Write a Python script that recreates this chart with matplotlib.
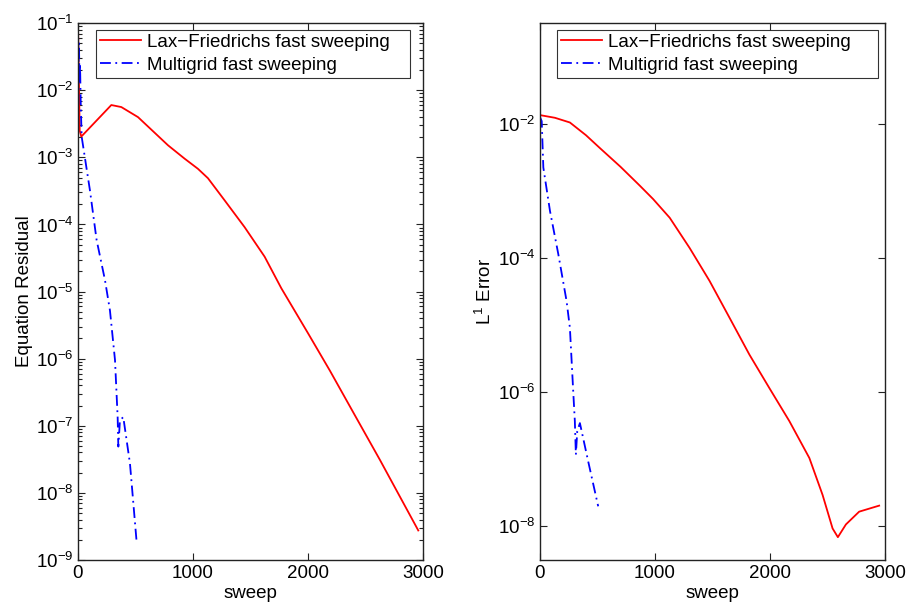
import numpy as np
import matplotlib
matplotlib.use("Agg")
import matplotlib.pyplot as plt
from matplotlib.ticker import LogLocator, FixedLocator, NullLocator, LogFormatterMathtext

plt.rcParams['font.family'] = ['Liberation Sans', 'DejaVu Sans']
plt.rcParams['mathtext.fontset'] = 'custom'
plt.rcParams['mathtext.rm'] = 'Liberation Sans'
plt.rcParams['mathtext.it'] = 'Liberation Sans:italic'
plt.rcParams['axes.unicode_minus'] = True

# left panel: equation residual (values stored as log10)
lf_res_sweep = [0, 15, 29, 290, 377, 522, 783, 928, 1043, 1130, 1275, 1449, 1623,
                1768, 2000, 2191, 2400, 2626, 2959]
lf_res_log10 = [-1.0, -2.6, -2.69, -2.22, -2.25, -2.40, -2.82, -3.02, -3.17, -3.31,
                -3.64, -4.04, -4.48, -4.95, -5.62, -6.18, -6.82, -7.51, -8.56]

mg_res_sweep = [0, 5, 9, 13, 18, 24, 32, 104, 162, 235, 278, 322, 345, 351, 365,
                394, 452, 510]
mg_res_log10 = [-1.0, -1.6, -1.3, -1.9, -1.6, -2.2, -2.69, -3.49, -4.23, -4.83, -5.28,
                -6.02, -6.87, -7.31, -6.92, -6.87, -7.56, -8.73]

# right panel: L1 error (values stored as log10)
lf_err_sweep = [0, 130, 260, 400, 520, 700, 867, 983, 1128, 1301, 1474, 1648, 1821,
                1995, 2168, 2342, 2457, 2544, 2590, 2660, 2775, 2949]
lf_err_log10 = [-1.87, -1.91, -1.98, -2.17, -2.36, -2.64, -2.92, -3.12, -3.40, -3.85,
                -4.34, -4.89, -5.44, -5.94, -6.43, -6.98, -7.53, -8.03, -8.16, -7.97,
                -7.78, -7.69]

mg_err_sweep = [0, 15, 29, 87, 159, 231, 260, 289, 303, 312, 324, 347, 419, 506]
mg_err_log10 = [-1.9, -1.96, -2.65, -3.30, -3.94, -4.64, -5.04, -5.99, -6.43, -6.93,
                -6.58, -6.46, -7.03, -7.70]

legend_labels = ["Lax\u2212Friedrichs fast sweeping", "Multigrid fast sweeping"]
x_ticks = [0, 1000, 2000, 3000]


def style_axes(ax):
    ax.set_yscale("log")
    ax.set_xlim(0, 3000)
    ax.set_xticks(x_ticks)
    ax.tick_params(which="both", direction="in", top=True, right=True,
                   labelsize=13.5, width=0.8, colors="#222222", labelcolor="black")
    ax.tick_params(which="major", length=5)
    ax.tick_params(which="minor", length=3)
    for s in ax.spines.values():
        s.set_linewidth(1.0)
        s.set_color("#222222")
    ax.set_xlabel("sweep", fontsize=13.5, labelpad=2)


fig = plt.figure(figsize=(9.14, 6.10), dpi=100)
ax1 = fig.add_axes([0.0853, 0.082, 0.3775, 0.880])
ax2 = fig.add_axes([0.5908, 0.082, 0.3775, 0.880])

ax1.plot(lf_res_sweep, 10 ** np.array(lf_res_log10), color="red", lw=1.3,
         label=legend_labels[0])
ax1.plot(mg_res_sweep, 10 ** np.array(mg_res_log10), color="blue", lw=1.3,
         linestyle=(0, (6, 2.5, 1, 2.5)), label=legend_labels[1])
style_axes(ax1)
ax1.set_ylim(1e-9, 1e-1)
ax1.yaxis.set_major_locator(LogLocator(base=10, numticks=20))
ax1.yaxis.set_minor_locator(LogLocator(base=10, subs=np.arange(2, 10), numticks=20))
ax1.yaxis.set_major_formatter(LogFormatterMathtext())
ax1.set_ylabel("Equation Residual", fontsize=13.5, labelpad=2)

ax2.plot(lf_err_sweep, 10 ** np.array(lf_err_log10), color="red", lw=1.3,
         label=legend_labels[0])
ax2.plot(mg_err_sweep, 10 ** np.array(mg_err_log10), color="blue", lw=1.3,
         linestyle=(0, (6, 2.5, 1, 2.5)), label=legend_labels[1])
style_axes(ax2)
ax2.set_ylim(10 ** -8.5, 10 ** -0.5)
ax2.yaxis.set_major_locator(FixedLocator([1e-2, 1e-4, 1e-6, 1e-8]))
ax2.yaxis.set_minor_locator(NullLocator())
ax2.yaxis.set_major_formatter(LogFormatterMathtext())
ax2.set_ylabel("L$^{1}$ Error", fontsize=13.5, labelpad=2)

# legend boxes: (x0, y0, width, height) in axes fraction, MATLAB-like wide frame
for ax, box in ((ax1, (0.052, 0.888, 0.910, 0.099)), (ax2, (0.049, 0.888, 0.931, 0.099))):
    leg = ax.legend(loc="upper left", bbox_to_anchor=box, mode="expand", fontsize=13.5,
                    frameon=True, fancybox=False, borderpad=0.2, handlelength=2.2,
                    handletextpad=0.3, labelspacing=0.3, borderaxespad=0.0)
    leg.get_frame().set_edgecolor("black")
    leg.get_frame().set_linewidth(0.8)

fig.savefig("out.png", dpi=100)
